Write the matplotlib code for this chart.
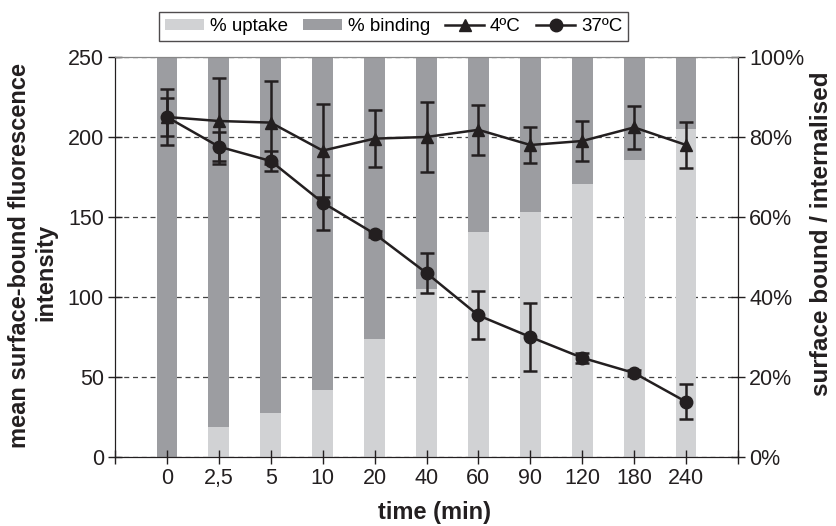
import numpy as np
import matplotlib
matplotlib.use('Agg')
import matplotlib.pyplot as plt
from matplotlib.lines import Line2D

plt.rcParams['font.family'] = ['Liberation Sans', 'DejaVu Sans']

times = ['0', '2,5', '5', '10', '20', '40', '60', '90', '120', '180', '240']
uptake = [0, 7.6, 11.1, 16.8, 29.6, 42, 56.3, 61.3, 68.3, 74.3, 82]
binding = [100 - u for u in uptake]

cold = [212.5, 210, 209, 191.5, 199, 200, 204.5, 195, 197.5, 206, 195]
cold_err = [12, 27, 26, 29, 18, 22, 15.5, 11, 12.5, 13.5, 14.5]
warm = [212.5, 194, 185, 159, 139.5, 115, 88.5, 75, 62, 52.5, 34.5]
warm_err = [17.5, 9, 6, 17, 2, 12.5, 15, 21, 3, 2, 11]

light = '#d1d2d4'
dark = '#9c9da1'
ink = '#231f20'

x = np.arange(len(times))

W, H = 836, 526
fig = plt.figure(figsize=(W / 100, H / 100), dpi=100)
ax = fig.add_axes([115/W, 1 - 457/H, 623/W, 400/H])
ax2 = ax.twinx()
ax.set_zorder(ax2.get_zorder() + 1)
ax.patch.set_visible(False)

# bars (right axis, %)
b1 = ax2.bar(x, uptake, width=0.4, color=light, zorder=2)
b2 = ax2.bar(x, binding, width=0.4, bottom=uptake, color=dark, zorder=2)
ax2.set_ylim(0, 100)
ax2.set_yticks(range(0, 101, 20))
ax2.set_yticklabels(['%d%%' % v for v in range(0, 101, 20)])
ax2.yaxis.grid(True, linestyle=(0, (4, 3)), color='#444444', linewidth=0.9)
ax2.set_axisbelow(True)

# lines (left axis)
ax.errorbar(x, cold, yerr=cold_err, color=ink, marker='^', ms=9, lw=1.8,
            capsize=5, capthick=1.8, elinewidth=1.8)
ax.errorbar(x, warm, yerr=warm_err, color=ink, marker='o', ms=9, lw=1.8,
            capsize=5, capthick=1.8, elinewidth=1.8)
ax.set_ylim(0, 250)
ax.set_yticks(range(0, 251, 50))
ax.set_xlim(-1, 11)
ax.set_xticks(np.arange(-1, 12))
ax.set_xticklabels([''] + times + [''])

for a in (ax, ax2):
    a.tick_params(axis='both', direction='inout', length=10, width=1, labelsize=15.5, colors=ink, pad=3)
    a.spines['top'].set_color('#888888')
    for s in ('left', 'right', 'bottom'):
        a.spines[s].set_color(ink)
ax2.tick_params(axis='x', which='both', bottom=False, top=False)

# axis titles
fig.text(20/W, 1 - 256/H, 'mean surface-bound fluorescence', rotation=90, ha='center', va='center',
         fontsize=17, fontweight='bold', color=ink)
fig.text(46/W, 1 - 272/H, 'intensity', rotation=90, ha='center', va='center',
         fontsize=17, fontweight='bold', color=ink)
fig.text(822/W, 1 - 234/H, 'surface bound / internalised', rotation=90, ha='center', va='center',
         fontsize=17.5, fontweight='bold', color=ink)
fig.text(434/W, 1 - 512/H, 'time (min)', ha='center', va='center',
         fontsize=17, fontweight='bold', color=ink)

h3 = Line2D([], [], color=ink, marker='^', ms=9, lw=1.8)
h4 = Line2D([], [], color=ink, marker='o', ms=9, lw=1.8)
handles = [b1, b2, h3, h4]
labels = ['% uptake', '% binding', '4ºC', '37ºC']
leg = ax.legend(handles, labels, loc='center', bbox_to_anchor=(0.447, 1.076), ncol=4,
                fontsize=13.5, frameon=True, fancybox=False, edgecolor=ink,
                handlelength=2.1, handleheight=0.55, handletextpad=0.3, columnspacing=0.8,
                borderpad=0.3, borderaxespad=0)
leg.get_frame().set_linewidth(1)

fig.savefig('out.png', dpi=100)
